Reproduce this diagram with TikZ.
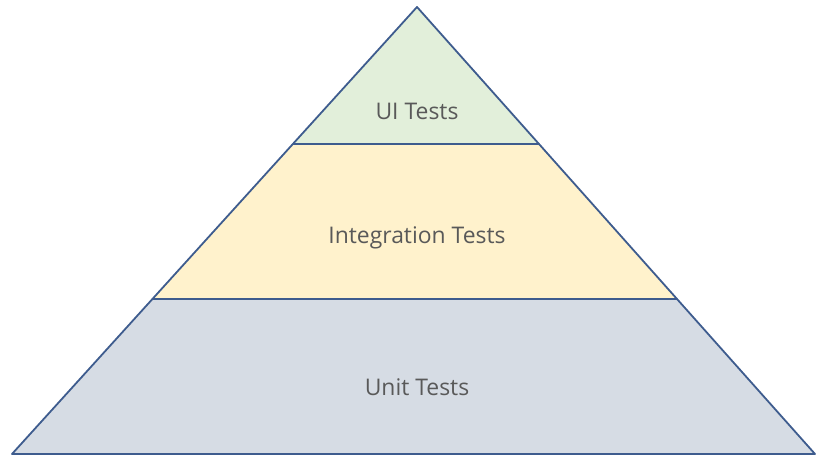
\documentclass[tikz,border=0pt]{standalone}
\usepackage{fontspec}
\setmainfont{Open Sans}
\usetikzlibrary{calc}
\definecolor{edge}{HTML}{3E5C8E}
\definecolor{topfill}{HTML}{E2EFDA}
\definecolor{midfill}{HTML}{FFF2CC}
\definecolor{lowfill}{HTML}{D6DCE4}
\definecolor{txt}{HTML}{595959}
\tikzset{
  band/.style={draw=edge, line width=1.8bp, line join=round},
  lbl/.style={text=txt, font=\fontsize{23}{27}\selectfont, inner sep=0pt}
}
\begin{document}
\begin{tikzpicture}[x=1bp,y=-1bp]
\useasboundingbox (0,0) rectangle (817,457);
\coordinate (apex) at (417,7);
\coordinate (bl) at (12,454);
\coordinate (br) at (815,454);
\coordinate (l1) at ($(apex)!0.3065!(bl)$);
\coordinate (r1) at ($(apex)!0.3065!(br)$);
\coordinate (l2) at ($(apex)!0.6525!(bl)$);
\coordinate (r2) at ($(apex)!0.6525!(br)$);
\fill[lowfill] (l2) -- (r2) -- (br) -- (bl) -- cycle;
\fill[midfill] (l1) -- (r1) -- (r2) -- (l2) -- cycle;
\fill[topfill] (apex) -- (r1) -- (l1) -- cycle;
\draw[band] (apex) -- (br) -- (bl) -- cycle;
\draw[band] (l1) -- (r1);
\draw[band] (l2) -- (r2);
\node[lbl] (ui) at (417,111) {UI Tests};
\node[lbl] (integ) at (417,238) {Integration Tests};
\node[lbl] (unit) at (417,387) {Unit Tests};
\end{tikzpicture}
\end{document}
